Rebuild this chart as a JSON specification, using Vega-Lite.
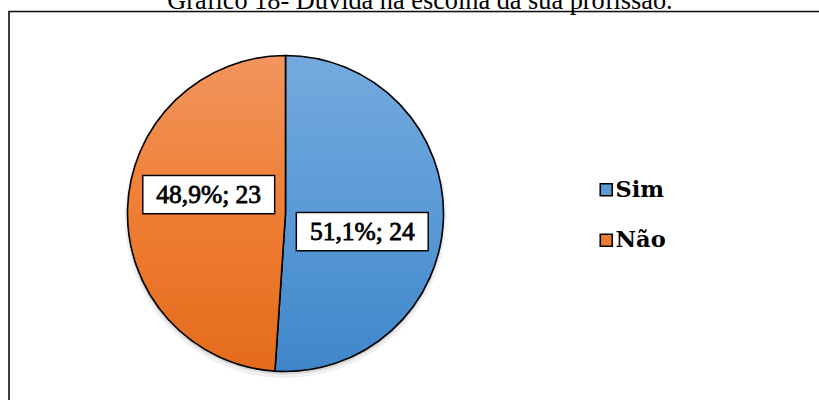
{
  "$schema": "https://vega.github.io/schema/vega-lite/v6.json",
  "width": 810,
  "height": 388.5,
  "autosize": {"type": "none"},
  "padding": {"left": 9, "top": 11.5, "right": 0, "bottom": 0},
  "background": "white",
  "config": {"font": "Liberation Serif", "text": {"font": "Liberation Serif"}},
  "title": {
    "text": "Gráfico 18- Dúvida na escolha da sua profissão.",
    "font": "Liberation Serif",
    "fontSize": 26.3,
    "fontWeight": "normal",
    "color": "#000",
    "anchor": "middle",
    "baseline": "alphabetic",
    "offset": -3,
    "dy": 22,
    "dx": 6
  },
  "data": {
    "values": [
      {"resposta": "Sim", "n": 24, "rotulo": "51,1%; 24"},
      {"resposta": "Não", "n": 23, "rotulo": "48,9%; 23"}
    ]
  },
  "layer": [
    {
      "data": {"values": [{"moldura": "quadro"}]},
      "mark": {"type": "rect", "fill": null, "stroke": "#111", "strokeWidth": 1.6},
      "encoding": {"x": {"value": 0}, "x2": {"value": 860}, "y": {"value": 0}, "y2": {"value": 440}}
    },
    {
      "mark": {"type": "arc", "radius": 161, "xOffset": -128.5, "yOffset": 11.25, "fill": "#000", "fillOpacity": 0.06, "stroke": null},
      "encoding": {
        "theta": {"field": "n", "type": "quantitative", "stack": true},
        "order": {"field": "resposta", "sort": "descending"},
        "detail": {"field": "resposta"}
      }
    },
    {
      "mark": {"type": "arc", "radius": 159, "xOffset": -128.5, "yOffset": 9.75, "fill": "#000", "fillOpacity": 0.1, "stroke": null},
      "encoding": {
        "theta": {"field": "n", "type": "quantitative", "stack": true},
        "order": {"field": "resposta", "sort": "descending"},
        "detail": {"field": "resposta"}
      }
    },
    {
      "mark": {"type": "arc", "radius": 158, "xOffset": -128.5, "yOffset": 7.75, "stroke": null},
      "encoding": {
        "theta": {"field": "n", "type": "quantitative", "stack": true},
        "order": {"field": "resposta", "sort": "descending"},
        "color": {
          "field": "resposta",
          "type": "nominal",
          "scale": {"domain": ["Sim", "Não"], "range": ["#5b9bd5", "#ed7d31"]},
          "legend": {
            "title": null,
            "orient": "none",
            "legendX": 586,
            "legendY": 167,
            "symbolType": "square",
            "symbolSize": 144,
            "symbolStrokeColor": "#000",
            "symbolStrokeWidth": 1.6,
            "symbolOpacity": 1,
            "labelFont": "DejaVu Serif",
            "labelFontSize": 22.5,
            "labelFontWeight": "bold",
            "labelColor": "#000",
            "labelOffset": -2,
            "rowPadding": 27.5,
            "padding": 0,
            "labelLimit": 200
          }
        }
      }
    },
    {
      "mark": {"type": "arc", "radius": 158, "xOffset": -128.5, "yOffset": 7.75, "stroke": "#000", "strokeWidth": 1.6},
      "encoding": {
        "theta": {"field": "n", "type": "quantitative", "stack": true},
        "order": {"field": "resposta", "sort": "descending"},
        "detail": {"field": "resposta"},
        "fill": {
          "condition": {
            "test": "datum.resposta === 'Sim'",
            "value": {"gradient": "linear", "x1": 0, "y1": 0, "x2": 0, "y2": 1, "stops": [{"offset": 0, "color": "#74aade"}, {"offset": 0.5, "color": "#5a9ad6"}, {"offset": 1, "color": "#3f86c9"}]}
          },
          "value": {"gradient": "linear", "x1": 0, "y1": 0, "x2": 0, "y2": 1, "stops": [{"offset": 0, "color": "#f2955f"}, {"offset": 0.5, "color": "#ef7e33"}, {"offset": 1, "color": "#e46b1b"}]}
        }
      }
    },
    {
      "mark": {"type": "text", "radius": 79, "xOffset": -128.5, "yOffset": 7.75, "font": "Liberation Serif", "fontSize": 97, "baseline": "alphabetic", "align": "center", "dy": 22, "fill": "#000", "stroke": "#000", "strokeWidth": 35, "strokeJoin": "miter"},
      "encoding": {
        "theta": {"field": "n", "type": "quantitative", "stack": true, "scale": {"range": [0.203, 6.486]}},
        "order": {"field": "resposta", "sort": "descending"},
        "detail": {"field": "resposta"},
        "text": {"value": "—"}
      }
    },
    {
      "mark": {"type": "text", "radius": 79, "xOffset": -128.5, "yOffset": 7.75, "font": "Liberation Serif", "fontSize": 97, "baseline": "alphabetic", "align": "center", "dy": 22, "fill": "#fff", "stroke": "#fff", "strokeWidth": 32, "strokeJoin": "miter"},
      "encoding": {
        "theta": {"field": "n", "type": "quantitative", "stack": true, "scale": {"range": [0.203, 6.486]}},
        "order": {"field": "resposta", "sort": "descending"},
        "detail": {"field": "resposta"},
        "text": {"value": "—"}
      }
    },
    {
      "mark": {"type": "text", "radius": 79, "xOffset": -128.5, "yOffset": 7.75, "font": "Liberation Serif", "fontSize": 25.5, "fontWeight": "normal", "baseline": "middle", "align": "center", "fill": "#000", "stroke": "#000", "strokeWidth": 0.8},
      "encoding": {
        "theta": {"field": "n", "type": "quantitative", "stack": true, "scale": {"range": [0.203, 6.486]}},
        "order": {"field": "resposta", "sort": "descending"},
        "detail": {"field": "resposta"},
        "text": {"field": "rotulo"}
      }
    }
  ],
  "resolve": {"scale": {"theta": "independent"}}
}
